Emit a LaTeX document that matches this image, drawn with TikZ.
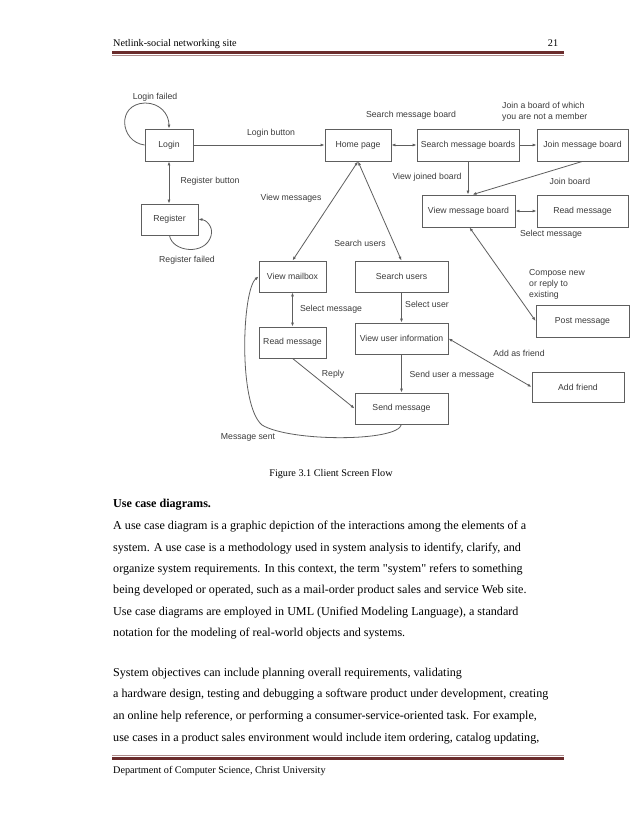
\documentclass[tikz,border=0pt]{standalone}
\usepackage{fontspec}
\setmainfont{Liberation Serif}[Ligatures=TeXOff]
\newfontfamily\diagfont{Liberation Sans}
\usetikzlibrary{arrows.meta}
\definecolor{ln}{HTML}{5E5E5E}
\definecolor{tx}{HTML}{3C3C3C}
\definecolor{rulec}{HTML}{6A2C2C}
\begin{document}
\begin{tikzpicture}[x=1pt,y=-1pt,
  box/.style={draw=ln,line width=0.8pt,inner sep=0pt,text=tx,font=\diagfont\fontsize{8.7}{10}\selectfont},
  lbl/.style={inner sep=0pt,text=tx,font=\diagfont\fontsize{8.7}{11}\selectfont},
  con/.style={draw=ln,line width=0.8pt},
  fw/.style={con,-{Latex[length=4pt,width=3pt]}},
  bw/.style={con,{Latex[length=4pt,width=3pt]}-{Latex[length=4pt,width=3pt]}},
  body/.style={anchor=base west,inner sep=0pt,font=\fontsize{12.1}{14}\selectfont},
  small/.style={inner sep=0pt,font=\fontsize{10.2}{12}\selectfont},
  rulestyle/.style={draw=rulec,line width=3pt},
  rulethin/.style={draw=rulec!55,line width=0.9pt}
]
\fill[white] (0,0) rectangle (638,826);
\useasboundingbox (0,0) rectangle (638,826);

% header
\node[small,anchor=base west] (htitle) at (113,47) {Netlink-social networking site};
\node[small,anchor=base] (hpage) at (553,47) {21};
\coordinate (hr1) at (112,52.5);
\coordinate (hr2) at (564,52.5);
\coordinate (hr3) at (112,55.2);
\coordinate (hr4) at (564,55.2);
\draw[rulestyle] (hr1) -- (hr2);
\draw[rulethin] (hr3) -- (hr4);

% boxes
\node[box,minimum width=48pt,minimum height=32pt] (login) at (169,145) {Login};
\node[box,minimum width=57pt,minimum height=31pt] (register) at (169.5,219.5) {Register};
\node[box,minimum width=66pt,minimum height=32pt] (home) at (358,145) {Home page};
\node[box,minimum width=102pt,minimum height=32pt] (smb) at (468,145) {Search message boards};
\node[box,minimum width=91pt,minimum height=32pt] (jmb) at (582.5,145) {Join message board};
\node[box,minimum width=93pt,minimum height=32pt] (vmb) at (468.5,211) {View message board};
\node[box,minimum width=91pt,minimum height=32pt] (rmr) at (582.5,211) {Read message};
\node[box,minimum width=67pt,minimum height=31pt] (vmail) at (292.5,276.5) {View mailbox};
\node[box,minimum width=93pt,minimum height=31pt] (susers) at (401.5,276.5) {Search users};
\node[box,minimum width=67pt,minimum height=31pt] (rml) at (292.5,342.5) {Read message};
\node[box,minimum width=93pt,minimum height=31pt] (vui) at (401.5,338.5) {View user information};
\node[box,minimum width=93pt,minimum height=31pt] (send) at (401.5,408.5) {Send message};
\node[box,minimum width=93pt,minimum height=32pt] (post) at (582.5,321) {Post message};
\node[box,minimum width=92pt,minimum height=30pt] (addf) at (578,387) {Add friend};

% connectors
\draw[fw] (login.west) .. controls (120,142) and (116,104) .. (145,103) .. controls (160,103) and (169,114) .. (login.north);
\draw[fw] (login) -- (home);
\draw[bw] (login.south) -- (login.south |- register.north);
\draw[fw] (register.south) .. controls (172,252) and (205,256) .. (211,236) .. controls (214,226) and (205,219.5) .. (register.east);
\draw[bw] (home) -- (smb);
\draw[fw] (smb) -- (jmb);
\draw[fw] (smb.south) -- (smb.south |- vmb.north);
\draw[fw] (jmb.south) -- ([xshift=4pt]vmb.north);
\draw[bw] (vmb) -- (rmr);
\draw[bw] ([xshift=1pt]vmb.south) -- (post.west);
\draw[bw] (home.south) -- (vmail.north);
\draw[bw] (home.south) -- (susers.north);
\draw[bw] (vmail) -- (rml);
\draw[fw] (susers) -- (vui);
\draw[fw] (rml.south) -- (send.west);
\draw[fw] (vui) -- (send);
\draw[fw] (send.south) .. controls (398,442) and (290,442) .. (262,425) .. controls (238,405) and (242,290) .. (vmail.west);
\draw[bw] (vui.east) -- (addf.west);

% labels
\node[lbl] (l1) at (155,97) {Login failed};
\node[lbl] (l2) at (271,133) {Login button};
\node[lbl] (l3) at (210,181) {Register button};
\node[lbl] (l4) at (291,198) {View messages};
\node[lbl] (l5) at (187,260) {Register failed};
\node[lbl] (l6) at (411,115) {Search message board};
\node[lbl,align=left,anchor=west] (l7) at (502,111.5) {Join a board of which\\you are not a member};
\node[lbl] (l8) at (427,177) {View joined board};
\node[lbl] (l9) at (570,181) {Join board};
\node[lbl] (l10) at (551,234) {Select message};
\node[lbl] (l11) at (360,243) {Search users};
\node[lbl] (l12) at (331,309) {Select message};
\node[lbl] (l13) at (427,304) {Select user};
\node[lbl] (l14) at (333,374) {Reply};
\node[lbl] (l15) at (452,375) {Send user a message};
\node[lbl] (l16) at (248,437) {Message sent};
\node[lbl,align=left,anchor=west] (l17) at (529,284) {Compose new\\or reply to\\existing};
\node[lbl] (l18) at (519,353) {Add as friend};

% caption and text
\node[small,anchor=base] (cap) at (331,476) {Figure 3.1 Client Screen Flow};
\node[body,font=\bfseries\fontsize{12.1}{14}\selectfont] (head) at (113,507) {Use case diagrams.};
\node[body] (t1) at (113,529) {A use case diagram is a graphic depiction of the interactions among the elements of a};
\node[body] (t2) at (113,551) {system. A use case is a methodology used in system analysis to identify, clarify, and};
\node[body] (t3) at (113,572) {organize system requirements. In this context, the term "system" refers to something};
\node[body] (t4) at (113,593) {being developed or operated, such as a mail-order product sales and service Web site.};
\node[body] (t5) at (113,615) {Use case diagrams are employed in UML (Unified Modeling Language), a standard};
\node[body] (t6) at (113,636) {notation for the modeling of real-world objects and systems.};
\node[body] (t7) at (113,676) {System objectives can include planning overall requirements, validating};
\node[body] (t8) at (113,697) {a hardware design, testing and debugging a software product under development, creating};
\node[body] (t9) at (113,719) {an online help reference, or performing a consumer-service-oriented task. For example,};
\node[body] (t10) at (113,741) {use cases in a product sales environment would include item ordering, catalog updating,};

% footer
\coordinate (fr1) at (112,758);
\coordinate (fr2) at (564,758);
\coordinate (fr3) at (112,755.4);
\coordinate (fr4) at (564,755.4);
\draw[rulethin] (fr3) -- (fr4);
\draw[rulestyle] (fr1) -- (fr2);
\node[small,anchor=base west] (foot) at (113,773) {Department of Computer Science, Christ University};
\end{tikzpicture}
\end{document}
